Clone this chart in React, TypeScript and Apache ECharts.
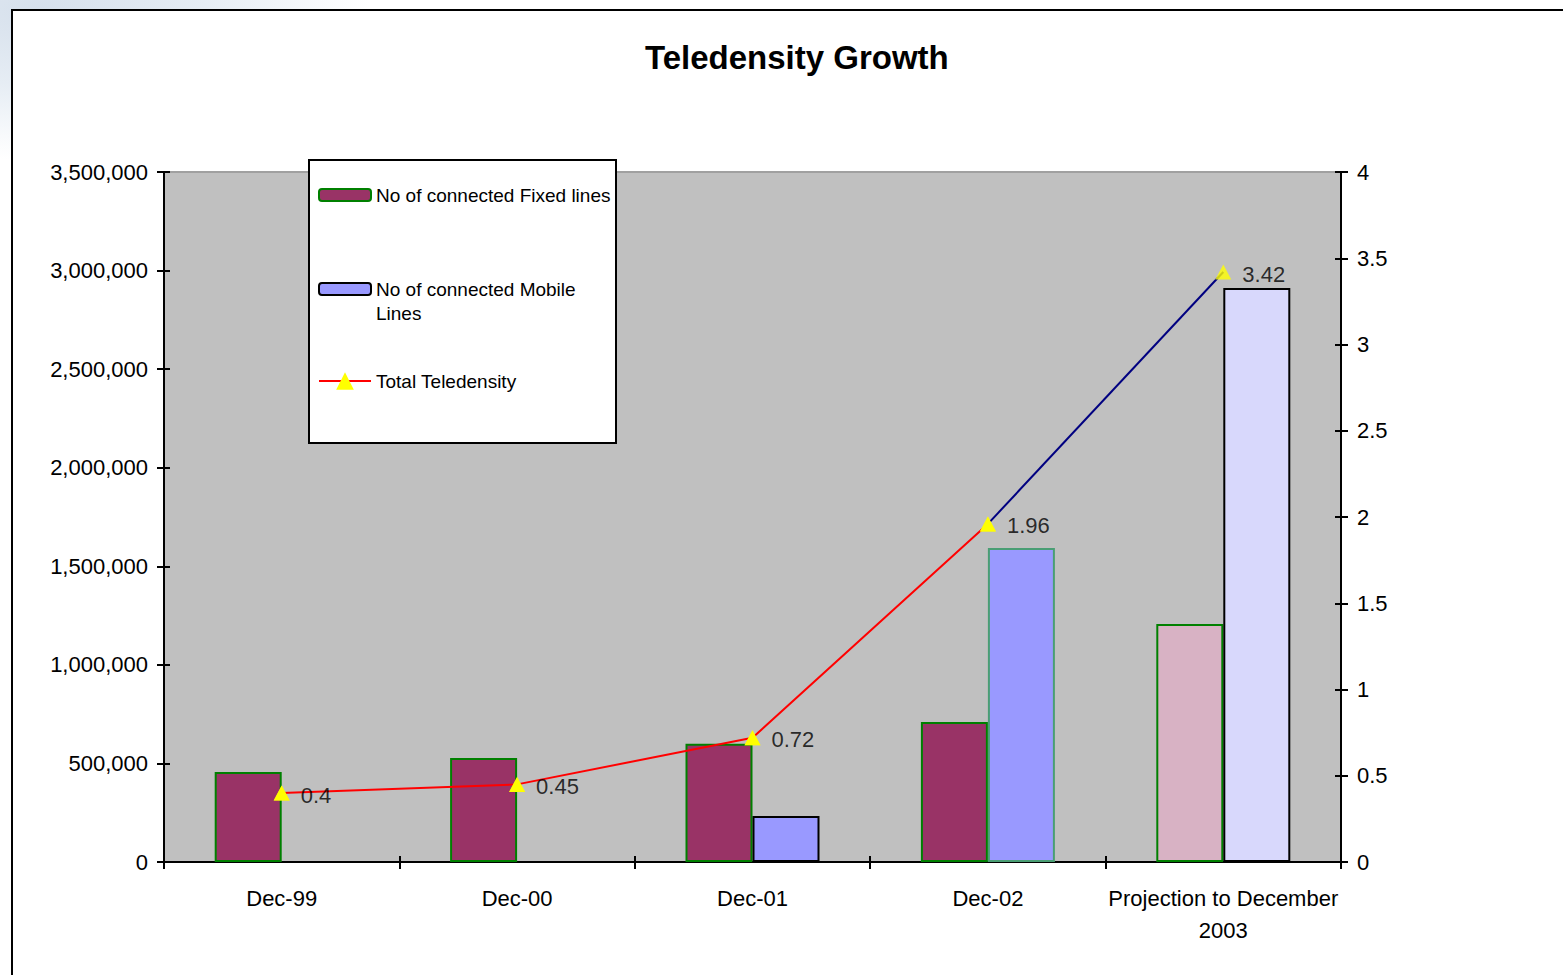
import React, { useEffect, useRef } from "react";
import * as echarts from "echarts";

// Periods on the category axis
const categories = ["Dec-99", "Dec-00", "Dec-01", "Dec-02", "Projection to December\n2003"];
// Connected lines per period (left axis)
const fixedLines = [456000, 527000, 600000, 710000, 1207000];
const mobileLines = [null, null, 233000, 1593000, 2912000];
// Total teledensity per period (right axis)
const teledensity = [0.4, 0.45, 0.72, 1.96, 3.42];
// Index from which the teledensity line is a projection
const projectionFrom = 3;

// Per-bar styling
const fixedFill = ["#993366", "#993366", "#993366", "#993366", "#d8b2c4"];
const fixedBorder = ["#008000", "#008000", "#008000", "#008000", "#008000"];
const mobileFill = ["#9999ff", "#9999ff", "#9999ff", "#9999ff", "#d8d8fc"];
const mobileBorder = ["#000000", "#000000", "#000000", "#4a9e74", "#000000"];

const FONT = "'Liberation Sans', Arial, Helvetica, sans-serif";

const SERIES_FIXED = "No of connected Fixed lines";
const SERIES_MOBILE = "No of connected Mobile Lines";
const SERIES_TD = "Total Teledensity";

export default function App() {
  const ref = useRef<HTMLDivElement>(null);

  useEffect(() => {
    if (!ref.current) return;
    const chart = echarts.init(ref.current, undefined, { renderer: "svg" });

    const leftAxisCommon = {
      type: "value" as const,
      min: 0,
      max: 3500000,
      interval: 500000,
      splitLine: { show: false },
    };
    const rightAxisCommon = {
      type: "value" as const,
      min: 0,
      max: 4,
      interval: 0.5,
      splitLine: { show: false },
    };
    const legendText = { fontFamily: FONT, fontSize: 19, lineHeight: 24, color: "#000" };

    chart.setOption({
      animation: false,
      backgroundColor: "transparent",
      textStyle: { fontFamily: FONT, color: "#000" },
      title: {
        text: "Teledensity Growth",
        left: 640,
        top: 36,
        textStyle: { fontFamily: FONT, fontSize: 33, fontWeight: "bold", color: "#000" },
      },
      grid: {
        left: 164,
        top: 172,
        right: 222,
        bottom: 113,
        show: true,
        backgroundColor: "#c0c0c0",
        borderColor: "#a0a0a0",
        borderWidth: 2,
      },
      graphic: [
        {
          type: "rect",
          z: 3,
          shape: { x: 309, y: 160, width: 307, height: 283 },
          style: { fill: "#ffffff", stroke: "#000000", lineWidth: 2 },
        },
      ],
      legend: [
        {
          orient: "vertical",
          left: 318,
          top: 183,
          padding: 0,
          z: 10,
          itemGap: 46,
          itemWidth: 52,
          itemHeight: 12,
          data: [SERIES_FIXED, SERIES_MOBILE],
          formatter: (name: string) =>
            name === SERIES_MOBILE ? "\u00a0\nNo of connected Mobile\nLines" : name,
          textStyle: legendText,
        },
        {
          orient: "vertical",
          left: 318,
          top: 369,
          padding: 0,
          z: 10,
          itemWidth: 52,
          itemHeight: 22,
          data: [SERIES_TD],
          textStyle: legendText,
        },
      ],
      xAxis: [
        {
          type: "category",
          data: categories,
          position: "bottom",
          axisLine: { show: true, lineStyle: { color: "#000", width: 2 } },
          axisTick: { show: true, inside: false, length: 7, lineStyle: { color: "#000", width: 2 } },
          axisLabel: {
            fontFamily: FONT,
            fontSize: 22,
            lineHeight: 32,
            color: "#000",
            margin: 20,
            interval: 0,
          },
          splitLine: { show: false },
        },
        {
          type: "category",
          data: categories,
          position: "bottom",
          axisLine: { show: false },
          axisTick: { show: true, inside: true, length: 6, lineStyle: { color: "#000", width: 2 } },
          axisLabel: { show: false },
          splitLine: { show: false },
        },
      ],
      yAxis: [
        {
          ...leftAxisCommon,
          position: "left",
          axisLine: { show: true, lineStyle: { color: "#000", width: 2 } },
          axisTick: { show: true, inside: false, length: 7, lineStyle: { color: "#000", width: 2 } },
          axisLabel: {
            fontFamily: FONT,
            fontSize: 22,
            color: "#000",
            margin: 16,
            formatter: (v: number) => v.toLocaleString("en-US"),
          },
        },
        {
          ...rightAxisCommon,
          position: "right",
          axisLine: { show: true, lineStyle: { color: "#000", width: 2 } },
          axisTick: { show: true, inside: false, length: 7, lineStyle: { color: "#000", width: 2 } },
          axisLabel: { fontFamily: FONT, fontSize: 22, color: "#000", margin: 16 },
        },
        {
          ...leftAxisCommon,
          position: "left",
          axisLine: { show: false },
          axisTick: { show: true, inside: true, length: 6, lineStyle: { color: "#000", width: 2 } },
          axisLabel: { show: false },
        },
        {
          ...rightAxisCommon,
          position: "right",
          axisLine: { show: false },
          axisTick: { show: true, inside: true, length: 6, lineStyle: { color: "#000", width: 2 } },
          axisLabel: { show: false },
        },
      ],
      series: [
        {
          name: SERIES_FIXED,
          type: "bar",
          xAxisIndex: 0,
          yAxisIndex: 0,
          barWidth: 67,
          barGap: "0%",
          itemStyle: { color: fixedFill[0], borderColor: fixedBorder[0], borderWidth: 2 },
          data: fixedLines.map((v, i) => ({
            value: v,
            itemStyle: { color: fixedFill[i], borderColor: fixedBorder[i], borderWidth: 2 },
          })),
        },
        {
          name: SERIES_MOBILE,
          type: "bar",
          xAxisIndex: 0,
          yAxisIndex: 0,
          barWidth: 67,
          barGap: "0%",
          itemStyle: { color: mobileFill[0], borderColor: "#000", borderWidth: 2 },
          data: mobileLines.map((v, i) => ({
            value: v,
            itemStyle: { color: mobileFill[i], borderColor: mobileBorder[i], borderWidth: 2 },
          })),
        },
        {
          // actual teledensity, red up to the last recorded period
          name: SERIES_TD,
          type: "line",
          xAxisIndex: 0,
          yAxisIndex: 1,
          z: 3,
          data: teledensity.map((v, i) => (i <= projectionFrom ? v : null)),
          symbol: "triangle",
          symbolSize: [16, 15],
          lineStyle: { color: "#ff0000", width: 2 },
          itemStyle: { color: "#ffff00" },
        },
        {
          // projected segment in navy
          name: "projection segment",
          type: "line",
          xAxisIndex: 0,
          yAxisIndex: 1,
          z: 3,
          silent: true,
          symbol: "none",
          data: teledensity.map((v, i) => (i >= projectionFrom ? v : null)),
          lineStyle: { color: "#000080", width: 2 },
        },
        {
          // triangle markers with value labels
          name: "markers",
          type: "scatter",
          xAxisIndex: 0,
          yAxisIndex: 1,
          z: 5,
          silent: true,
          symbol: "triangle",
          symbolSize: [16, 15],
          data: teledensity,
          itemStyle: { color: "#ffff00" },
          label: {
            show: true,
            position: "right",
            distance: 11,
            offset: [0, 2],
            fontFamily: FONT,
            fontSize: 22,
            color: "#000",
          },
        },
      ],
    });

    return () => chart.dispose();
  }, []);

  return (
    <div
      style={{
        position: "fixed",
        left: 0,
        top: 0,
        width: 1563,
        height: 975,
        overflow: "hidden",
        background:
          "radial-gradient(ellipse 330px 150px at 40px 10px, #d6e0ec 0%, #e6edf4 50%, #f8fafc 85%, #ffffff 100%)",
      }}
    >
      <div
        style={{
          position: "absolute",
          left: 11,
          top: 9,
          width: 1600,
          height: 1000,
          border: "2px solid #000",
          background: "#ffffff",
        }}
      />
      <div ref={ref} style={{ position: "absolute", left: 0, top: 0, width: 1563, height: 975 }} />
    </div>
  );
}
